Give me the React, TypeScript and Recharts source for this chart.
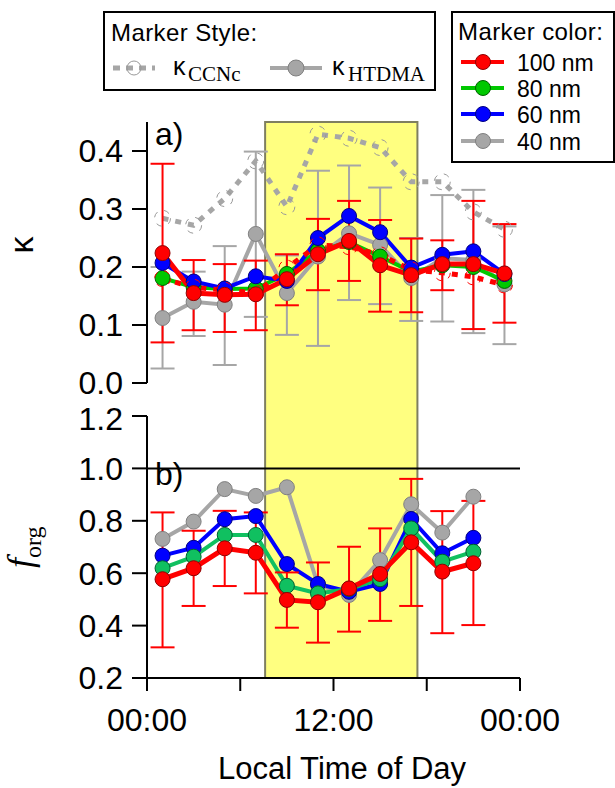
import React from 'react';
import { LineChart, Line, XAxis, YAxis, ErrorBar, ReferenceArea, ReferenceLine } from 'recharts';

// hour of day for each bin centre
const hours = [1, 3, 5, 7, 9, 11, 13, 15, 17, 19, 21, 23];

// panel a) hygroscopicity kappa
const kCcnGray = [0.284, 0.272, 0.318, 0.383, 0.304, 0.429, 0.422, 0.406, 0.347, 0.347, 0.295, 0.265];
const kCcnRed = [0.18, 0.165, 0.16, 0.155, 0.198, 0.238, 0.235, 0.221, 0.195, 0.19, 0.183, 0.169];
const kHt100 = [0.224, 0.155, 0.152, 0.153, 0.179, 0.222, 0.245, 0.203, 0.186, 0.205, 0.205, 0.189];
const kHt80 = [0.181, 0.165, 0.162, 0.163, 0.188, 0.228, 0.243, 0.218, 0.192, 0.203, 0.2, 0.176];
const kHt60 = [0.207, 0.175, 0.163, 0.184, 0.176, 0.25, 0.288, 0.26, 0.199, 0.221, 0.227, 0.188];
const kHt40 = [0.112, 0.14, 0.135, 0.257, 0.155, 0.218, 0.258, 0.238, 0.181, 0.215, 0.212, 0.17];
const kHt100Lo = [0.07, 0.091, 0.088, 0.091, 0.134, 0.16, 0.176, 0.123, 0.122, 0.16, 0.093, 0.104];
const kHt100Hi = [0.378, 0.212, 0.205, 0.211, 0.222, 0.283, 0.314, 0.281, 0.249, 0.246, 0.314, 0.274];
const kHt40Lo = [0.025, 0.081, 0.031, 0.114, 0.083, 0.064, 0.143, 0.136, 0.107, 0.106, 0.086, 0.067];
const kHt40Hi = [0.2, 0.192, 0.236, 0.399, 0.22, 0.366, 0.375, 0.337, 0.25, 0.324, 0.333, 0.27];

// panel b) organic fraction (no bin at 23h)
const fOrg100 = [0.577, 0.619, 0.695, 0.678, 0.498, 0.489, 0.542, 0.597, 0.718, 0.606, 0.638];
const fOrg80 = [0.619, 0.663, 0.746, 0.746, 0.552, 0.523, 0.54, 0.577, 0.771, 0.644, 0.682];
const fOrg60 = [0.667, 0.697, 0.806, 0.818, 0.635, 0.559, 0.529, 0.559, 0.807, 0.676, 0.735];
const fOrg40 = [0.731, 0.797, 0.921, 0.895, 0.928, 0.555, 0.517, 0.65, 0.863, 0.755, 0.892];
const fOrg100Lo = [0.317, 0.475, 0.551, 0.523, 0.392, 0.335, 0.377, 0.418, 0.475, 0.371, 0.402];
const fOrg100Hi = [0.832, 0.762, 0.838, 0.832, 0.603, 0.641, 0.701, 0.771, 0.96, 0.837, 0.876];

// daytime shading (hours)
const dayStart = 7.6;
const dayEnd = 17.4;

const kTicks = [0, 0.1, 0.2, 0.3, 0.4];
const fTicks = [0.2, 0.4, 0.6, 0.8, 1.0, 1.2];
const timeTicks = [0, 6, 12, 18, 24];

const kRows = hours.map((h, i) => ({
  h,
  ccnGray: kCcnGray[i],
  ccnRed: kCcnRed[i],
  ht100: kHt100[i],
  ht80: kHt80[i],
  ht60: kHt60[i],
  ht40: kHt40[i],
  e100: [kHt100[i] - kHt100Lo[i], kHt100Hi[i] - kHt100[i]],
  e40: [kHt40[i] - kHt40Lo[i], kHt40Hi[i] - kHt40[i]],
}));

const fRows = fOrg100.map((v, i) => ({
  h: hours[i],
  f100: v,
  f80: fOrg80[i],
  f60: fOrg60[i],
  f40: fOrg40[i],
  e100: [v - fOrg100Lo[i], fOrg100Hi[i] - v],
}));

const SANS = '"Liberation Sans", Arial, sans-serif';
const SERIF = '"Liberation Serif", "Times New Roman", serif';

const RED = '#ff0000';
const GREEN = '#00c800';
const GREEN_B = '#10c060';
const BLUE = '#0000ff';
const GRAY = '#a6a6a6';

const axisStyle = { stroke: '#000', strokeWidth: 2 };
const tickStyle = { fontSize: 32, fill: '#000', fontFamily: SANS };

const dotOf = (fill: string, stroke: string) => ({ r: 7.5, fill, stroke, strokeWidth: 1 });

const App: React.FC = () => {
  return (
    <div style={{ position: 'absolute', left: 0, top: 0, width: 615, height: 788, background: '#fff', fontFamily: SANS }}>
      {/* Panel a) */}
      <div style={{ position: 'absolute', left: 0, top: 0 }}>
        <LineChart width={615} height={690} data={kRows} margin={{ top: 122, right: 95, bottom: 307, left: 87 }}>
          <XAxis type="number" dataKey="h" domain={[0, 24]} hide />
          <YAxis
            type="number"
            domain={[0, 0.45]}
            ticks={kTicks}
            width={60}
            tickFormatter={(v: number) => v.toFixed(1)}
            axisLine={axisStyle}
            tickLine={axisStyle}
            tickSize={15}
            tickMargin={9}
            tick={tickStyle}
          />
          <ReferenceArea
            x1={dayStart}
            x2={dayEnd}
            y1={-0.5086}
            y2={0.45}
            ifOverflow="visible"
            fill="#ffff80"
            fillOpacity={1}
            stroke="#7f7f60"
            strokeWidth={2}
          />
          <Line
            dataKey="ccnGray"
            stroke={GRAY}
            strokeWidth={5}
            strokeDasharray="6 7"
            dot={{ r: 8, fill: 'none', stroke: '#999', strokeWidth: 1 }}
            isAnimationActive={false}
          />
          <Line dataKey="ht40" stroke={GRAY} strokeWidth={4} dot={dotOf(GRAY, '#808080')} isAnimationActive={false}>
            <ErrorBar dataKey="e40" width={12} stroke={GRAY} strokeWidth={2} direction="y" />
          </Line>
          <Line dataKey="ht80" stroke={GREEN} strokeWidth={4} dot={dotOf(GREEN, '#006000')} isAnimationActive={false} />
          <Line dataKey="ht60" stroke={BLUE} strokeWidth={4} dot={dotOf(BLUE, '#000080')} isAnimationActive={false} />
          <Line
            dataKey="ccnRed"
            stroke={RED}
            strokeWidth={5}
            strokeDasharray="6 7"
            dot={{ r: 8, fill: 'none', stroke: RED, strokeWidth: 1 }}
            isAnimationActive={false}
          />
          <Line dataKey="ht100" stroke={RED} strokeWidth={5} dot={dotOf(RED, '#900000')} isAnimationActive={false}>
            <ErrorBar dataKey="e100" width={12} stroke={RED} strokeWidth={2} direction="y" />
          </Line>
        </LineChart>
      </div>

      {/* Panel b) */}
      <div style={{ position: 'absolute', left: 0, top: 400 }}>
        <LineChart width={615} height={388} data={fRows} margin={{ top: 16, right: 95, bottom: 50, left: 87 }}>
          <XAxis
            type="number"
            dataKey="h"
            domain={[0, 24]}
            ticks={timeTicks}
            height={60}
            tickFormatter={(v: number) => (v % 12 === 0 ? (v === 12 ? '12:00' : '00:00') : '')}
            axisLine={axisStyle}
            tickLine={axisStyle}
            tickSize={13}
            tickMargin={17}
            tick={tickStyle}
          />
          <YAxis
            type="number"
            domain={[0.2, 1.2]}
            ticks={fTicks}
            width={60}
            tickFormatter={(v: number) => v.toFixed(1)}
            axisLine={axisStyle}
            tickLine={axisStyle}
            tickSize={15}
            tickMargin={9}
            tick={tickStyle}
          />
          <ReferenceLine y={1} stroke="#000" strokeWidth={2} />
          <Line dataKey="f40" stroke={GRAY} strokeWidth={4} dot={dotOf(GRAY, '#808080')} isAnimationActive={false} />
          <Line dataKey="f60" stroke={BLUE} strokeWidth={4} dot={dotOf(BLUE, '#000080')} isAnimationActive={false} />
          <Line dataKey="f80" stroke={GREEN_B} strokeWidth={4} dot={dotOf(GREEN_B, '#006030')} isAnimationActive={false} />
          <Line dataKey="f100" stroke={RED} strokeWidth={5} dot={dotOf(RED, '#900000')} isAnimationActive={false}>
            <ErrorBar dataKey="e100" width={12} stroke={RED} strokeWidth={2} direction="y" />
          </Line>
        </LineChart>
      </div>

      {/* labels and legends */}
      <svg width={615} height={788} style={{ position: 'absolute', left: 0, top: 0, pointerEvents: 'none' }}>
        <text x={155} y={145} fontSize={32} fontFamily={SANS}>a)</text>
        <text x={155} y={485} fontSize={32} fontFamily={SANS}>b)</text>
        <text transform="translate(33,245) rotate(-90)" textAnchor="middle" fontSize={34} fontFamily={SANS}>κ</text>
        <text transform="translate(32,568) rotate(-90)" fontFamily={SERIF}>
          <tspan fontStyle="italic" fontSize={36}>f</tspan>
          <tspan fontSize={24} dy={9}>org</tspan>
        </text>
        <text x={342} y={779} textAnchor="middle" fontSize={31} fontFamily={SANS}>Local Time of Day</text>

        {/* Marker style legend */}
        <rect x={104} y={12} width={331} height={78} fill="#fff" stroke="#000" strokeWidth={2} />
        <text x={111} y={41} fontSize={24} letterSpacing={0.4} fontFamily={SANS}>Marker Style:</text>
        <line x1={113} y1={68} x2={155} y2={68} stroke={GRAY} strokeWidth={5} strokeDasharray="7 6" />
        <circle cx={134} cy={68} r={7} fill="none" stroke="#999" strokeWidth={1} />
        <text x={173} y={75} fontSize={25} fontFamily={SANS}>κ</text>
        <text x={188} y={81} fontSize={21} fontFamily={SERIF}>CCNc</text>
        <line x1={270} y1={68} x2={322} y2={68} stroke={GRAY} strokeWidth={4} />
        <circle cx={296} cy={68} r={8} fill={GRAY} stroke="#808080" strokeWidth={1} />
        <text x={332} y={75} fontSize={25} fontFamily={SANS}>κ</text>
        <text x={348} y={81} fontSize={21} fontFamily={SERIF}>HTDMA</text>

        {/* Marker color legend */}
        <rect x={452} y={12} width={162} height={150} fill="#fff" stroke="#000" strokeWidth={2} />
        <text x={458} y={40} fontSize={24} letterSpacing={0.4} fontFamily={SANS}>Marker color:</text>
        {[
          { y: 62, c: RED, s: '#900000', t: '100 nm' },
          { y: 88, c: GREEN, s: '#006000', t: '80 nm' },
          { y: 114, c: BLUE, s: '#000080', t: '60 nm' },
          { y: 141, c: GRAY, s: '#808080', t: '40 nm' },
        ].map((r) => (
          <g key={r.t}>
            <line x1={461} y1={r.y} x2={504} y2={r.y} stroke={r.c} strokeWidth={4} />
            <circle cx={483} cy={r.y} r={7.5} fill={r.c} stroke={r.s} strokeWidth={1} />
            <text x={517} y={r.y + 8.5} fontSize={23} fontFamily={SANS}>{r.t}</text>
          </g>
        ))}
      </svg>
    </div>
  );
};

export default App;
